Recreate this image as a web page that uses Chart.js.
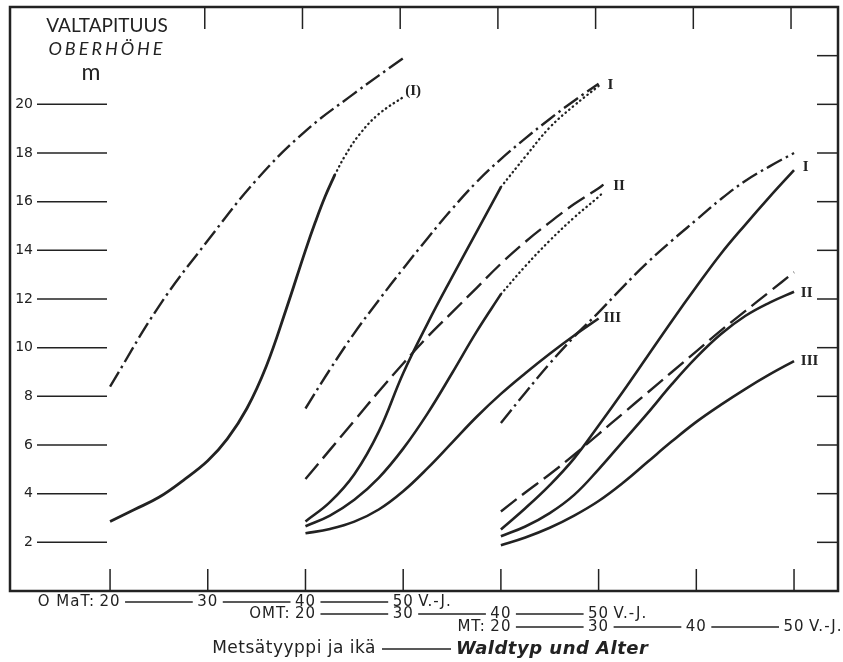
<!DOCTYPE html>
<html>
<head>
<meta charset="utf-8">
<title>Valtapituus – Oberhöhe</title>
<script src="https://cdn.jsdelivr.net/npm/chart.js@4/dist/chart.umd.min.js"></script>
<style>
  body { margin: 0; background: #fff; }
  #wrap { width: 843px; height: 662px; }
</style>
</head>
<body>
<div id="wrap"><canvas id="chart" width="843" height="662"></canvas></div>
<script>
// the three forest types share one age axis: OMT is shifted +20 years, MT +40
const groups = ['O MaT:', 'OMT:', 'MT:']
const groupShift = [0, 20, 40]
const ageTicks = [20, 30, 40, 50]
const heightTicks = [2, 4, 6, 8, 10, 12, 14, 16, 18, 20]
const rightTicks = [2, 4, 6, 8, 10, 12, 14, 16, 18, 20, 22]
const step = [20, 22.5, 25, 27.5, 30, 32.5, 35, 37.5, 40, 42.5, 45, 47.5, 50]

// O MaT
const omatDashDotAge = [20, 25, 30, 35, 40, 45, 50]
const omatDashDot = [8.4, 11.7, 14.4, 16.9, 18.9, 20.45, 21.9]
const omatSolidAge = [20, 22.5, 25, 27.5, 30, 32, 34, 36, 38, 40, 41, 42, 43]
const omatSolid = [2.86, 3.35, 3.85, 4.55, 5.35, 6.25, 7.5, 9.25, 11.55, 14.0, 15.15, 16.2, 17.1]
const omatDottedAge = [43, 44, 45.5, 47.5, 50.2]
const omatDotted = [17.1, 17.85, 18.75, 19.6, 20.35]

// OMT
const omtDashDot = [7.5, 9.1, 10.6, 11.95, 13.25, 14.5, 15.7, 16.8, 17.75, 18.6, 19.4, 20.15, 20.85]
const omtDashedAge = [20, 22.5, 25, 27.5, 30, 32.5, 35, 37.5, 40, 42.5, 45, 47.5, 50, 50.5]
const omtDashed = [4.6, 5.8, 7.0, 8.2, 9.35, 10.45, 11.45, 12.45, 13.45, 14.35, 15.15, 15.9, 16.55, 16.7]
const omtSolidAge = [20, 22.5, 25, 27.5, 30, 32.5, 35, 37.5, 40]
const omtSolidI = [2.86, 3.65, 4.8, 6.55, 8.95, 11.0, 12.9, 14.75, 16.6]
const omtSolidII = [2.66, 3.1, 3.75, 4.65, 5.85, 7.3, 8.95, 10.65, 12.2]
const omtDottedAgeI = [40, 42.5, 45, 47.5, 50]
const omtDottedI = [16.6, 17.85, 19.05, 19.95, 20.75]
const omtDottedAgeII = [40, 42.5, 45, 47.5, 50, 50.5]
const omtDottedII = [12.2, 13.35, 14.4, 15.35, 16.2, 16.4]
const omtSolidIII = [2.37, 2.55, 2.85, 3.35, 4.1, 5.05, 6.1, 7.15, 8.1, 8.95, 9.75, 10.5, 11.2]

// MT
const mtDashDot = [6.9, 8.15, 9.35, 10.45, 11.45, 12.5, 13.5, 14.4, 15.25, 16.1, 16.85, 17.45, 18.0]
const mtDashed = [3.27, 4.05, 4.8, 5.6, 6.45, 7.3, 8.15, 9.0, 9.85, 10.7, 11.5, 12.3, 13.1]
const mtSolidI = [2.53, 3.4, 4.35, 5.45, 6.8, 8.2, 9.65, 11.1, 12.5, 13.85, 15.05, 16.2, 17.3]
const mtSolidII = [2.25, 2.65, 3.2, 3.95, 5.0, 6.15, 7.3, 8.5, 9.6, 10.55, 11.3, 11.85, 12.3]
const mtSolidIII = [1.88, 2.2, 2.6, 3.1, 3.7, 4.45, 5.3, 6.15, 6.95, 7.65, 8.3, 8.9, 9.45]

// site class marks at line ends (x on the shared axis)
const markText = ['(I)', 'I', 'II', 'III', 'I', 'II', 'III']
const markX = [50.2, 70.9, 71.5, 70.5, 90.9, 90.7, 90.7]
const markY = [20.55, 20.8, 16.65, 11.2, 17.4, 12.25, 9.45]

const ink = '#222'
const dashDot = [17, 4.5, 2.5, 4.5]
const dashed = [20, 7]
const dotted = [0.5, 4.2]

function pts(ages, vals, shift) {
  return ages.map((a, i) => ({ x: a + shift, y: vals[i] }))
}

function curve(data, dash, width) {
  return {
    data: data,
    borderColor: ink,
    borderWidth: width,
    borderDash: dash,
    borderCapStyle: dash === dotted ? 'round' : 'butt',
    pointRadius: 0,
    fill: false,
    tension: 0.4
  }
}

function line(ctx, x1, y1, x2, y2) {
  ctx.beginPath()
  ctx.moveTo(x1, y1)
  ctx.lineTo(x2, y2)
  ctx.stroke()
}

const paper = {
  id: 'paper',
  afterDraw(chart) {
    const { ctx, chartArea: a, scales: { x, y } } = chart
    ctx.save()
    ctx.strokeStyle = ink
    ctx.fillStyle = ink

    ctx.lineWidth = 2.5
    ctx.strokeRect(a.left, a.top, a.right - a.left, a.bottom - a.top)

    // height scale, left with numbers, right only marks
    ctx.lineWidth = 1.5
    ctx.font = '14px "DejaVu Sans"'
    ctx.textAlign = 'right'
    ctx.textBaseline = 'middle'
    heightTicks.forEach(v => {
      const py = y.getPixelForValue(v)
      line(ctx, a.left + 27, py, a.left + 97, py)
      ctx.fillText(v, a.left + 23, py)
    })
    rightTicks.forEach(v => {
      const py = y.getPixelForValue(v)
      line(ctx, a.right - 21, py, a.right, py)
    })

    // age marks on bottom and top edges
    const marks = []
    groupShift.forEach(s => ageTicks.forEach(t => { if (!marks.includes(t + s)) marks.push(t + s) }))
    marks.forEach(m => {
      const px = x.getPixelForValue(m)
      line(ctx, px, a.bottom, px, a.bottom - 22)
      if (m > 20) line(ctx, px - 3, a.top, px - 3, a.top + 22)
    })

    // axis title
    ctx.textAlign = 'center'
    ctx.textBaseline = 'alphabetic'
    ctx.font = '19px Lato'
    ctx.fillText('VALTAPITUUS', a.left + 97, a.top + 25)
    ctx.font = 'italic 18px Lato'
    ctx.letterSpacing = '3px'
    ctx.fillText('OBERHÖHE', a.left + 97, a.top + 48)
    ctx.letterSpacing = '0px'
    ctx.font = '23px Lato'
    ctx.fillText('m', a.left + 81, a.top + 73)

    // age rows under the frame
    const rowY = [a.bottom + 11, a.bottom + 23, a.bottom + 36]
    ctx.font = '15px "DejaVu Sans"'
    ctx.textBaseline = 'middle'
    ctx.lineWidth = 1.3
    groups.forEach((g, i) => {
      const yy = rowY[i]
      const pos = ageTicks.map(t => x.getPixelForValue(t + groupShift[i]))
      ctx.letterSpacing = '1px'
      ctx.textAlign = 'center'
      ageTicks.forEach((t, j) => ctx.fillText(t, pos[j], yy))
      ctx.textAlign = 'right'
      ctx.fillText(g, pos[0] - 15, yy)
      ctx.textAlign = 'left'
      ctx.fillText('V.-J.', pos[3] + 15, yy)
      ctx.letterSpacing = '0px'
      for (let j = 0; j < 3; j++) line(ctx, pos[j] + 15, yy, pos[j + 1] - 15, yy)
    })

    // bottom caption
    const cy = a.bottom + 58
    ctx.textAlign = 'right'
    ctx.font = '17px "DejaVu Sans"'
    ctx.letterSpacing = '0.5px'
    ctx.fillText('Metsätyyppi ja ikä', 376, cy)
    line(ctx, 382, cy, 451, cy)
    ctx.textAlign = 'left'
    ctx.font = 'italic bold 18px "DejaVu Sans"'
    ctx.fillText('Waldtyp und Alter', 456, cy)
    ctx.letterSpacing = '0px'

    // site class marks
    ctx.font = 'bold 15px "Liberation Serif"'
    markText.forEach((t, i) => {
      ctx.fillText(t, x.getPixelForValue(markX[i]), y.getPixelForValue(markY[i]))
    })
    ctx.restore()
  }
}

new Chart(document.getElementById('chart'), {
  type: 'line',
  data: {
    datasets: [
      curve(pts(omatDashDotAge, omatDashDot, 0), dashDot, 2.4),
      curve(pts(omatSolidAge, omatSolid, 0), [], 2.8),
      curve(pts(omatDottedAge, omatDotted, 0), dotted, 2.3),

      curve(pts(step, omtDashDot, 20), dashDot, 2.4),
      curve(pts(omtDashedAge, omtDashed, 20), dashed, 2.4),
      curve(pts(omtSolidAge, omtSolidI, 20), [], 2.6),
      curve(pts(omtDottedAgeI, omtDottedI, 20), dotted, 2.3),
      curve(pts(omtSolidAge, omtSolidII, 20), [], 2.6),
      curve(pts(omtDottedAgeII, omtDottedII, 20), dotted, 2.3),
      curve(pts(step, omtSolidIII, 20), [], 2.6),

      curve(pts(step, mtDashDot, 40), dashDot, 2.4),
      curve(pts(step, mtDashed, 40), dashed, 2.4),
      curve(pts(step, mtSolidI, 40), [], 2.6),
      curve(pts(step, mtSolidII, 40), [], 2.6),
      curve(pts(step, mtSolidIII, 40), [], 2.6)
    ]
  },
  options: {
    responsive: false,
    animation: false,
    events: [],
    layout: { padding: { left: 10, top: 7, right: 5, bottom: 71 } },
    scales: {
      x: { type: 'linear', min: 9.76, max: 94.5, display: false },
      y: { type: 'linear', min: 0, max: 24, display: false }
    },
    plugins: {
      legend: { display: false },
      tooltip: { enabled: false }
    }
  },
  plugins: [paper]
})
</script>
</body>
</html>
